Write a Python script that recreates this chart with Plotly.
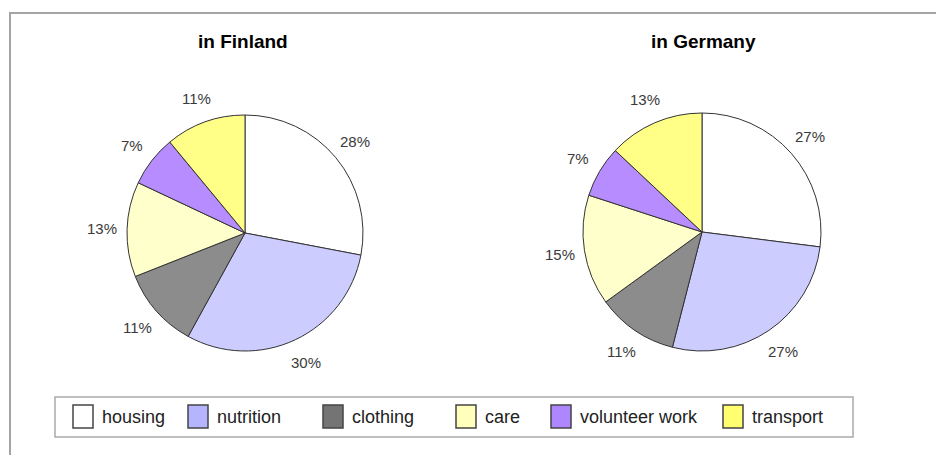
import math
import plotly.graph_objects as go

W, H = 936, 455

categories = ["housing", "nutrition", "clothing", "care", "volunteer work", "transport"]
finland = [28, 30, 11, 13, 7, 11]
germany = [27, 27, 11, 15, 7, 13]
titles = ["in Finland", "in Germany"]
colors = ["#FFFFFF", "#CCCCFF", "#8C8C8C", "#FFFFCC", "#B68CFF", "#FFFF88"]
swatch_colors = ["#FFFFFF", "#B4B4FF", "#747474", "#FFFFBB", "#AE86FF", "#FFFF70"]

FONT = "Arial, Liberation Sans, sans-serif"


def px_x(x):
    return x / W


def px_y(y):
    return 1 - y / H


fig = go.Figure()

# (centre x, centre y, radius) of each pie, in pixels
pies = [(finland, 245, 233, 118), (germany, 702, 232, 119)]

for values, cx, cy, r in pies:
    fig.add_trace(go.Pie(
        labels=categories,
        values=values,
        sort=False,
        direction="clockwise",
        rotation=0,
        marker=dict(colors=colors, line=dict(color="#333333", width=1)),
        textinfo="none",
        domain=dict(x=[px_x(cx - r), px_x(cx + r)], y=[px_y(cy + r), px_y(cy - r)]),
        showlegend=False,
        hoverinfo="label+value",
    ))
    # percentage labels sit just outside each slice, at its mid angle
    total = sum(values)
    start = 0.0
    for v in values:
        mid = (start + v / 2) / total * 2 * math.pi
        start += v
        lx = cx + 1.21 * r * math.sin(mid)
        ly = cy - 1.21 * r * math.cos(mid)
        fig.add_annotation(
            text=f"{v}%", x=px_x(lx), y=px_y(ly), xref="paper", yref="paper",
            showarrow=False, xanchor="center", yanchor="middle",
            font=dict(family=FONT, size=15, color="#3A3A3A"),
        )

for t, cx in zip(titles, [243, 703]):
    fig.add_annotation(
        text=f"<b>{t}</b>", x=px_x(cx), y=px_y(41), xref="paper", yref="paper",
        showarrow=False, xanchor="center", yanchor="middle",
        font=dict(family=FONT, size=19, color="#000000"),
    )

shapes = []
# outer frame, running off the right and bottom edges
shapes.append(dict(type="rect", xref="paper", yref="paper",
                   x0=px_x(10), x1=px_x(945), y0=px_y(465), y1=px_y(13),
                   line=dict(color="#A4A4A4", width=2), fillcolor="rgba(0,0,0,0)"))

# legend box with one swatch + label per category
shapes.append(dict(type="rect", xref="paper", yref="paper",
                   x0=px_x(55), x1=px_x(853), y0=px_y(437), y1=px_y(397),
                   line=dict(color="#AAAAAA", width=1.5), fillcolor="white"))
swatch_left = [73, 188, 323, 456, 551, 723]
for name, col, sx in zip(categories, swatch_colors, swatch_left):
    shapes.append(dict(type="rect", xref="paper", yref="paper",
                       x0=px_x(sx), x1=px_x(sx + 20), y0=px_y(428), y1=px_y(405),
                       line=dict(color="#444444", width=1.5), fillcolor=col))
    fig.add_annotation(
        text=name, x=px_x(sx + 27), y=px_y(417), xref="paper", yref="paper",
        showarrow=False, xanchor="left", yanchor="middle",
        font=dict(family=FONT, size=18, color="#222222"),
    )

fig.update_layout(
    width=W, height=H,
    margin=dict(l=0, r=0, t=0, b=0),
    paper_bgcolor="white", plot_bgcolor="white",
    shapes=shapes,
    showlegend=False,
)

fig.write_html("out.html")
